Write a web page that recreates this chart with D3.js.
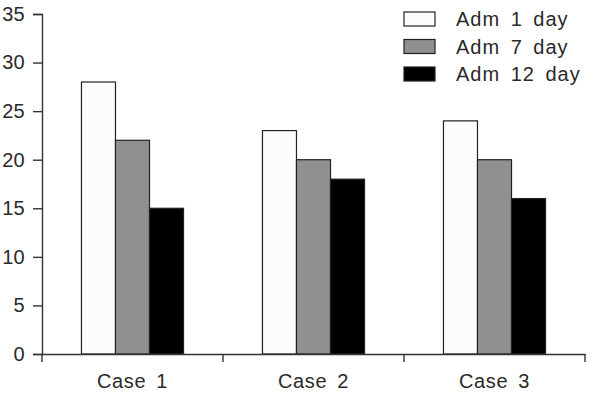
<!DOCTYPE html>
<html>
<head>
<meta charset="utf-8">
<script src="https://cdn.jsdelivr.net/npm/d3@7"></script>
<style>
  body { margin: 0; background: #fff; }
  text { font-family: Arial, "Liberation Sans", sans-serif; fill: #222; }
</style>
</head>
<body>
<svg id="chart" width="592" height="408"></svg>
<script>
const cases = ["Case 1", "Case 2", "Case 3"];
const series = ["Adm 1 day", "Adm 7 day", "Adm 12 day"];
const adm1 = [28, 23, 24];
const adm7 = [22, 20, 20];
const adm12 = [15, 18, 16];
const yTicks = [0, 5, 10, 15, 20, 25, 30, 35];

const values = [adm1, adm7, adm12];
const colors = ["#fcfcfc", "#909090", "#000000"];

const svg = d3.select("#chart"),
    margin = { top: 14, left: 42, right: 7, bottom: 54 },
    width = +svg.attr("width"),
    height = +svg.attr("height");

const x0 = d3.scaleBand()
    .domain(cases)
    .range([margin.left, width - margin.right])
    .padding(0);

const x1 = d3.scaleBand()
    .domain(series)
    .range([0, x0.bandwidth()])
    .paddingInner(0)
    .paddingOuter(1.16);

const y = d3.scaleLinear()
    .domain([0, 35])
    .range([height - margin.bottom, margin.top]);

const color = d3.scaleOrdinal().domain(series).range(colors);

// bars
const data = [];
cases.forEach((c, i) => {
    series.forEach((s, j) => data.push({ c: c, s: s, v: values[j][i] }));
});

svg.append("g").selectAll("rect")
    .data(data)
    .join("rect")
    .attr("x", d => x0(d.c) + x1(d.s))
    .attr("y", d => y(d.v))
    .attr("width", x1.bandwidth())
    .attr("height", d => y(0) - y(d.v))
    .attr("fill", d => color(d.s))
    .attr("stroke", "#222")
    .attr("stroke-width", 1.2);

// y axis
const yAxis = svg.append("g")
    .attr("transform", `translate(${margin.left},0)`)
    .call(d3.axisLeft(y).tickValues(yTicks).tickSize(9).tickPadding(8));
yAxis.selectAll("text")
    .style("font-size", "20px")
    .style("letter-spacing", "0.3px")
    .style("fill", "#2a2a2a");

// x axis: labels centred, ticks at band boundaries
const xAxis = svg.append("g")
    .attr("transform", `translate(0,${y(0)})`)
    .call(d3.axisBottom(x0).tickSize(0).tickPadding(20));
xAxis.selectAll("text")
    .style("font-size", "20px")
    .style("letter-spacing", "0.6px")
    .style("word-spacing", "4px")
    .style("fill", "#2a2a2a")
    .attr("dy", "0.71em");
const bounds = cases.map(c => x0(c)).concat([x0(cases[cases.length - 1]) + x0.bandwidth()]);
xAxis.selectAll(".bound")
    .data(bounds)
    .join("line")
    .attr("class", "bound")
    .attr("x1", d => d).attr("x2", d => d)
    .attr("y1", 0).attr("y2", 8);

svg.selectAll(".domain, .tick line, .bound")
    .attr("stroke", "#333")
    .attr("stroke-width", 1.4);

// legend
const legend = svg.append("g").attr("transform", "translate(404, 12)");
series.forEach((s, i) => {
    const g = legend.append("g").attr("transform", `translate(0, ${i * 27.5})`);
    g.append("rect")
        .attr("width", 31)
        .attr("height", 14)
        .attr("fill", color(s))
        .attr("stroke", "#222")
        .attr("stroke-width", 1.2);
    g.append("text")
        .attr("x", 52)
        .attr("y", 14)
        .style("font-size", "20px")
        .style("letter-spacing", "1px")
        .style("word-spacing", "4px")
        .style("fill", "#2a2a2a")
        .text(s);
});
</script>
</body>
</html>
